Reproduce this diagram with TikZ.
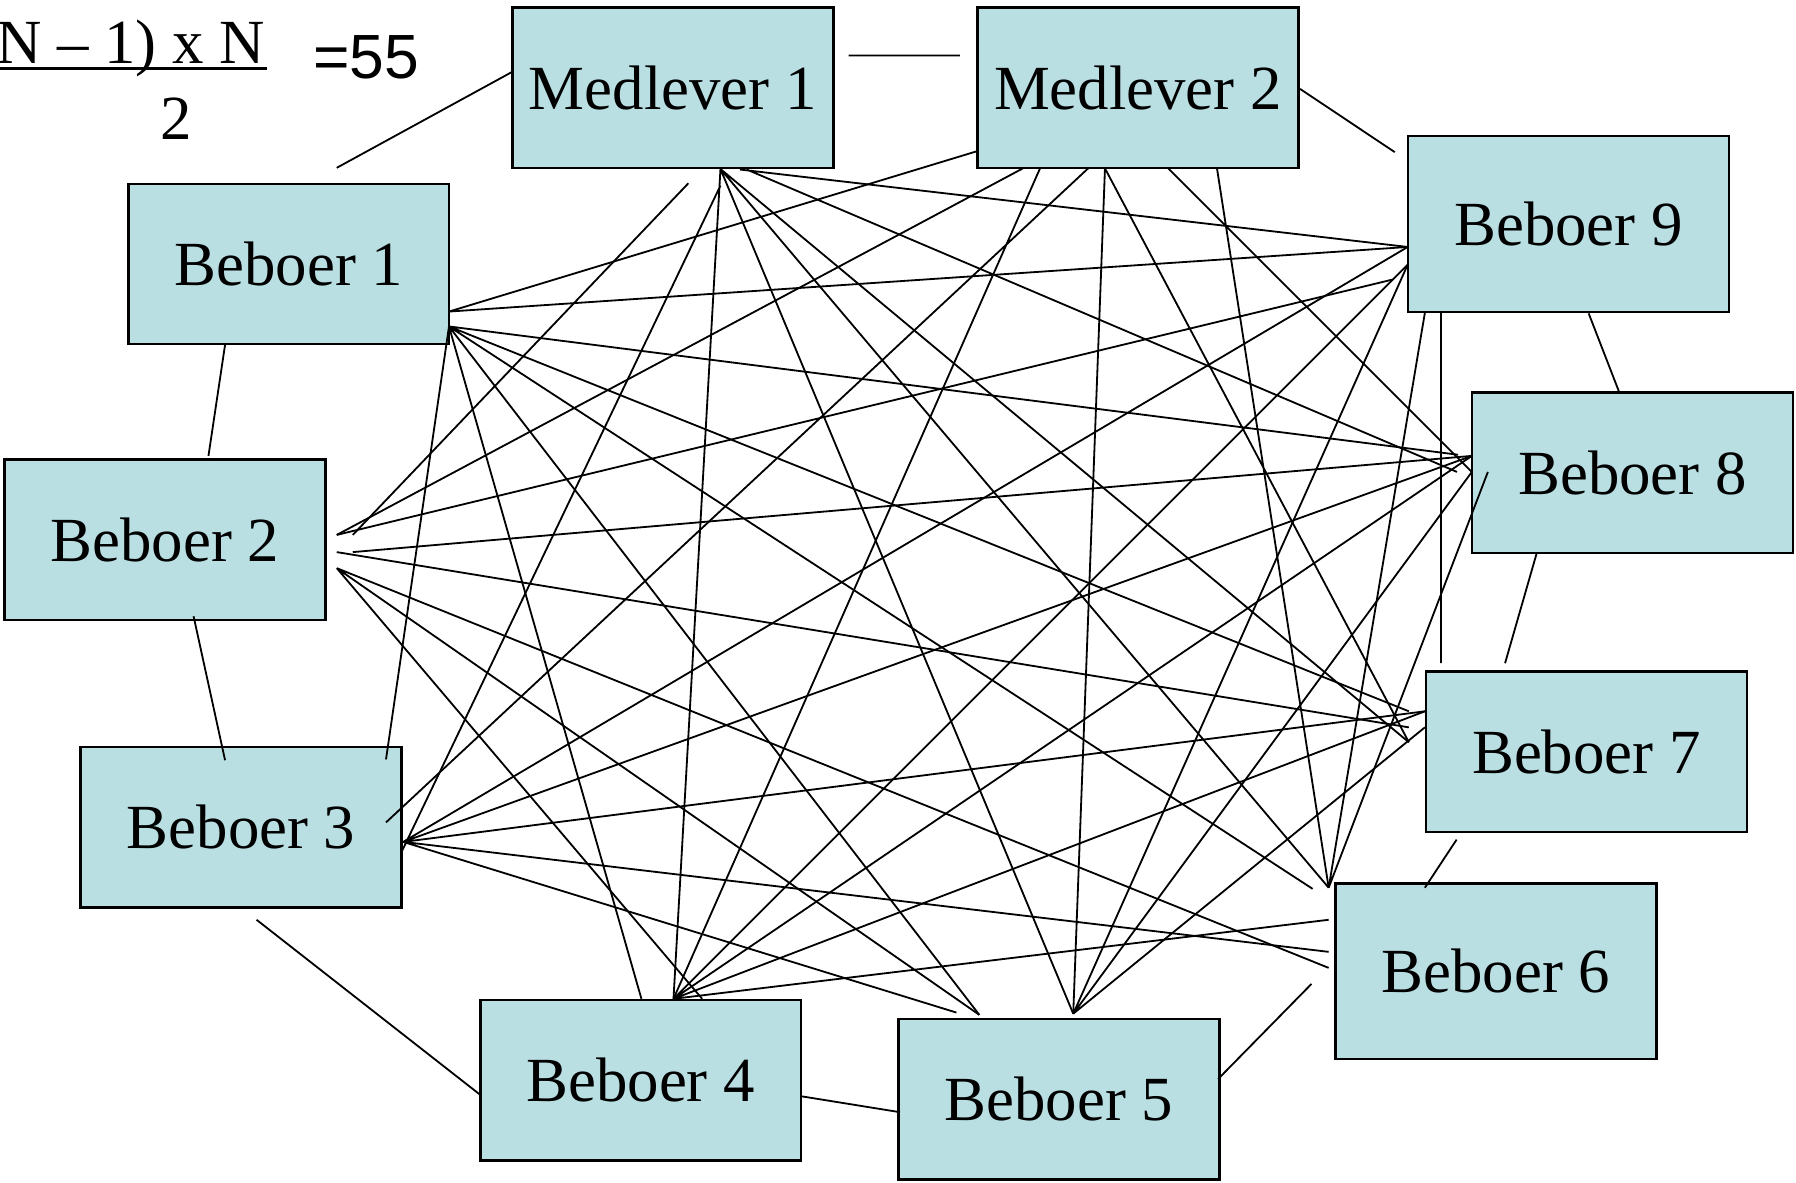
\documentclass[tikz,border=0pt]{standalone}
\usepackage{fontspec}
\setmainfont{Liberation Serif}
\newfontfamily\arialfont{Liberation Sans}
\usepackage{tikz}
\definecolor{boxfill}{RGB}{185,223,227}
\tikzset{
    box/.style={draw, fill=boxfill, line width=0.6pt, minimum width=2.8cm, minimum height=1.4cm, inner sep=0pt, font=\fontsize{15.6}{18}\selectfont},
    tallbox/.style={box, minimum height=1.535cm},
    link/.style={line width=0.45pt}
}

\begin{document}
\begin{tikzpicture}[x=0.01cm, y=-0.01cm]
    \useasboundingbox (0,0) rectangle (1568,1032);

    % Count formula
    \node (num) at (232,55) [anchor=base east, inner sep=0pt, font=\fontsize{15.6}{18}\selectfont] {(N -- 1) x N};
    \draw[line width=0.8pt] (-25,60) -- (233,60);
    \node (den) at (153.5,122) [anchor=base, inner sep=0pt, font=\fontsize{15.6}{18}\selectfont] {2};
    \node (res) at (273,68.6) [anchor=base west, inner sep=0pt, font={\arialfont\fontsize{15.5}{18}\selectfont}] {=55};

    % The people
    \node (m1) at (587.5,76.6) [box] {Medlever 1};
    \node (m2) at (993.5,76.6) [box] {Medlever 2};
    \node (b9) at (1369.5,195.6) [tallbox] {Beboer 9};
    \node (b8) at (1425.3,412.6) [box] {Beboer 8};
    \node (b7) at (1385,656.3) [box] {Beboer 7};
    \node (b6) at (1306,848) [tallbox] {Beboer 6};
    \node (b5) at (924.5,959.7) [box] {Beboer 5};
    \node (b4) at (559.4,943.3) [box] {Beboer 4};
    \node (b3) at (210.5,722.2) [box] {Beboer 3};
    \node (b2) at (144.1,471.1) [box] {Beboer 2};
    \node (b1) at (252.1,230.5) [box] {Beboer 1};

    % Ends of the outer ring
    \coordinate (m1m2) at (741,48.5);    \coordinate (m2m1) at (838,48.5);
    \coordinate (m2b9) at (1135,77.6);   \coordinate (b9m2) at (1217.7,132.8);
    \coordinate (b9b8) at (1387,273.6);  \coordinate (b8b9) at (1413.5,342);
    \coordinate (b8b7) at (1341.6,483);  \coordinate (b7b8) at (1314,579);
    \coordinate (b7b6) at (1271.7,733);  \coordinate (b6b7) at (1244,775);
    \coordinate (b6b5) at (1145,859);    \coordinate (b5b6) at (1063.5,942);
    \coordinate (b5b4) at (785.8,971);   \coordinate (b4b5) at (699,957);
    \coordinate (b4b3) at (419.5,956);   \coordinate (b3b4) at (224,803);
    \coordinate (b3b2) at (196.5,663.7); \coordinate (b2b3) at (169,538);
    \coordinate (b2b1) at (182,398);     \coordinate (b1b2) at (196.5,301);
    \coordinate (b1m1) at (294,146.5);   \coordinate (m1b1) at (447.6,62.5);

    % Ends of the inner lines
    \coordinate (m1a) at (629,147.5); \coordinate (m1b) at (601,160); \coordinate (m1c) at (629,162);
    \coordinate (m1d) at (646,148);   \coordinate (m1e) at (652,148);
    \coordinate (m2a) at (853,132);   \coordinate (m2b) at (893,147); \coordinate (m2c) at (908,147);
    \coordinate (m2d) at (950,147);   \coordinate (m2e) at (964.7,147); \coordinate (m2f) at (1020,147);
    \coordinate (m2g) at (1062.5,147);
    \coordinate (b9a) at (1229,215.6); \coordinate (b9b) at (1229,231); \coordinate (b9c) at (1216,244);
    \coordinate (b9d) at (1244,273);   \coordinate (b9e) at (1258,273);
    \coordinate (b8a) at (1273,397); \coordinate (b8b) at (1285,398); \coordinate (b8c) at (1272,412);
    \coordinate (b8d) at (1285,412); \coordinate (b8e) at (1299,412);
    \coordinate (b7a) at (1230,621); \coordinate (b7b) at (1244,621); \coordinate (b7c) at (1230,635);
    \coordinate (b7d) at (1244,635); \coordinate (b7e) at (1230,648); \coordinate (b7f) at (1258,579);
    \coordinate (b6a) at (1160,775); \coordinate (b6b) at (1146,776); \coordinate (b6c) at (1160,803);
    \coordinate (b6d) at (1160,831); \coordinate (b6e) at (1160,845);
    \coordinate (b5a) at (937,885);  \coordinate (b5b) at (855,886);  \coordinate (b5c) at (835,884);
    \coordinate (b4a) at (588,872);  \coordinate (b4b) at (560,872);  \coordinate (b4c) at (613,872);
    \coordinate (b3a) at (352,735);  \coordinate (b3b) at (337,718);  \coordinate (b3c) at (337,663);
    \coordinate (b3d) at (350,745);
    \coordinate (b2a) at (294,467);  \coordinate (b2b) at (308,467);  \coordinate (b2c) at (308,482);
    \coordinate (b2d) at (294,482);  \coordinate (b2e) at (294,496);
    \coordinate (b1a) at (392,272);  \coordinate (b1b) at (392,285);

    % Outer ring
    \draw[link] (m1m2) -- (m2m1)  (m2b9) -- (b9m2)  (b9b8) -- (b8b9)  (b8b7) -- (b7b8);
    \draw[link] (b7b6) -- (b6b7)  (b6b5) -- (b5b6)  (b5b4) -- (b4b5)  (b4b3) -- (b3b4);
    \draw[link] (b3b2) -- (b2b3)  (b2b1) -- (b1b2)  (b1m1) -- (m1b1);

    % Medlever 1
    \draw[link] (m1b) -- (b2b)  (m1c) -- (b3d)  (m1a) -- (b4a)  (m1a) -- (b5a)
                (m1a) -- (b6a)  (m1a) -- (b7e)  (m1e) -- (b8c)  (m1d) -- (b9a);
    % Medlever 2
    \draw[link] (m2a) -- (b1a)  (m2b) -- (b2a)  (m2d) -- (b3b)  (m2c) -- (b4a)
                (m2e) -- (b5a)  (m2g) -- (b6a)  (m2e) -- (b7e)  (m2f) -- (b8d);
    % Beboer 1
    \draw[link] (b1b) -- (b3c)  (b1b) -- (b4b)  (b1b) -- (b5b)  (b1b) -- (b6b)
                (b1b) -- (b7a)  (b1b) -- (b8a)  (b1a) -- (b9a);
    % Beboer 2
    \draw[link] (b2e) -- (b4c)  (b2e) -- (b5b)  (b2e) -- (b6e)  (b2d) -- (b7c)
                (b2c) -- (b8b)  (b2a) -- (b9c);
    % Beboer 3
    \draw[link] (b3a) -- (b5c)  (b3a) -- (b6d)  (b3a) -- (b7b)  (b3a) -- (b8b)  (b3a) -- (b9a);
    % Beboer 4
    \draw[link] (b4a) -- (b6c)  (b4a) -- (b7b)  (b4a) -- (b8b)  (b4a) -- (b9b);
    % Beboer 5
    \draw[link] (b5a) -- (b7d)  (b5a) -- (b8d)  (b5a) -- (b9b);
    % Beboer 6 and 7
    \draw[link] (b6a) -- (b8e)  (b6a) -- (b9d)  (b7f) -- (b9e);
\end{tikzpicture}
\end{document}
